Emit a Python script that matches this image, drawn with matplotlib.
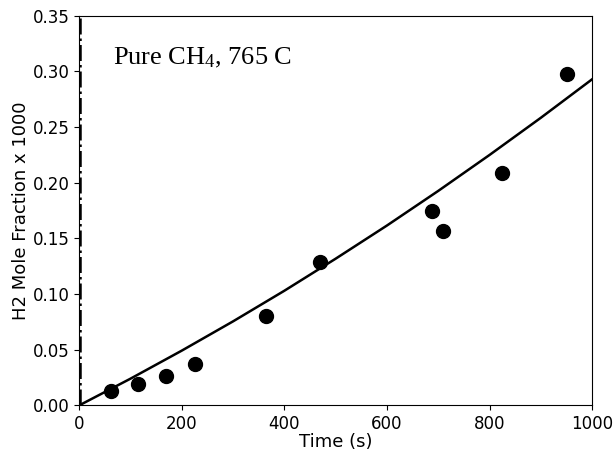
import numpy as np
import matplotlib.pyplot as plt

# measured H2 mole fraction (x 1000)
t_data = [62, 114, 170, 226, 365, 470, 688, 709, 825, 950]
h2_data = [0.0133, 0.0196, 0.0268, 0.037, 0.080, 0.129, 0.175, 0.157, 0.209, 0.298]

# model curve
t_model = [0, 100, 200, 300, 400, 500, 600, 700, 800, 900, 1000]
h2_model = [0.0, 0.0240, 0.0492, 0.0755, 0.1030, 0.1318, 0.1616, 0.1927, 0.2250, 0.2584, 0.2930]

# second model, near-vertical at t ~ 0
t_fast = [2, 2]
h2_fast = [0.0, 0.35]

plt.rcParams['mathtext.fontset'] = 'custom'
plt.rcParams['mathtext.rm'] = 'Liberation Serif'
plt.rcParams['mathtext.it'] = 'Liberation Serif:italic'

fig, ax = plt.subplots(figsize=(6.13, 4.51), dpi=100)
fig.subplots_adjust(left=0.129, right=0.966, top=0.965, bottom=0.101)

ax.plot(t_fast, h2_fast, 'k-.', lw=1.8)
ax.plot(t_model, h2_model, 'k-', lw=1.8)
ax.plot(t_data, h2_data, 'ko', ms=10)

ax.set_xlim(0, 1000)
ax.set_ylim(0, 0.35)
ax.set_xticks([0, 200, 400, 600, 800, 1000])
ax.set_yticks(np.arange(0, 0.351, 0.05))
ax.yaxis.set_major_formatter(plt.FormatStrFormatter('%.2f'))
ax.tick_params(labelsize=12)
ax.set_xlabel('Time (s)', fontsize=13, labelpad=0)
ax.set_ylabel('H2 Mole Fraction x 1000', fontsize=13, labelpad=2)

ax.text(0.066, 0.874, 'Pure CH$_4$, 765 C', transform=ax.transAxes,
        family='Liberation Serif', fontsize=19)

plt.savefig('out.png', dpi=100)
